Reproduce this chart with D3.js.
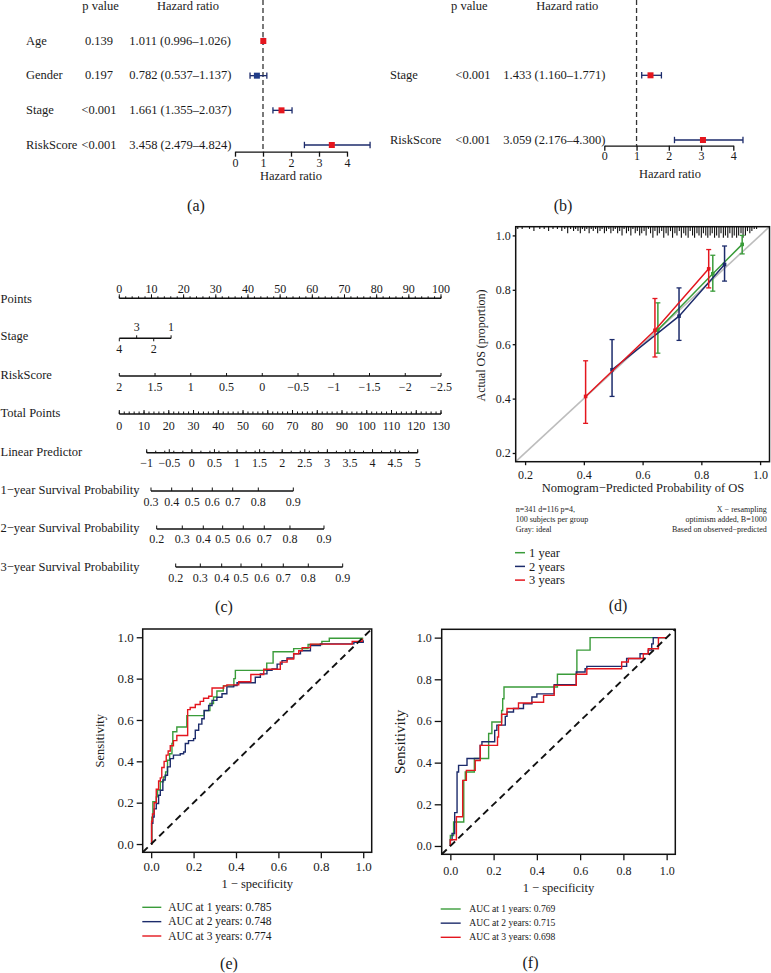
<!DOCTYPE html>
<html><head><meta charset="utf-8">
<script src="https://cdn.jsdelivr.net/npm/d3@7"></script>
<style>body{margin:0;background:#fff}svg{display:block}</style>
</head><body>
<script>
// ---------------- DATA ----------------
// (a) univariate Cox
const aVars = ["Age","Gender","Stage","RiskScore"];
const aPval = ["0.139","0.197","<0.001","<0.001"];
const aHR   = [1.011,0.782,1.661,3.458];
const aLow  = [0.996,0.537,1.355,2.479];
const aHigh = [1.026,1.137,2.037,4.824];
// (b) multivariate Cox
const bVars = ["Stage","RiskScore"];
const bPval = ["<0.001","<0.001"];
const bHR   = [1.433,3.059];
const bLow  = [1.160,2.176];
const bHigh = [1.771,4.300];
const hrTicks = [0,1,2,3,4];

// (c) nomogram
const nomRows = ["Points","Stage","RiskScore","Total Points","Linear Predictor",
  "1\u2212year Survival Probability","2\u2212year Survival Probability","3\u2212year Survival Probability"];
const pointsTicks = [0,10,20,30,40,50,60,70,80,90,100];
const stageLevels = ["4","3","2","1"];
const stagePoints = [0,5.4,10.7,16.1];
const stageSide   = ["below","above","below","above"];
const riskRange = [2,-2.5];
const riskTicks = [2,1.5,1,0.5,0,-0.5,-1,-1.5,-2,-2.5];
const totalRange = [0,130];
const totalTicks = [0,10,20,30,40,50,60,70,80,90,100,110,120,130];
const lpRange = [-1,5];
const lpTicks = [-1,-0.5,0,0.5,1,1.5,2,2.5,3,3.5,4,4.5,5];
const surv1Probs = [0.3,0.4,0.5,0.6,0.7,0.8,0.9];
const surv1LP    = [-0.905,-0.447,0.010,0.452,0.904,1.471,2.246];
const surv2Probs = [0.2,0.3,0.4,0.5,0.6,0.7,0.8,0.9];
const surv2LP    = [-0.779,-0.212,0.253,0.682,1.138,1.603,2.172,2.925];
const surv3Probs = [0.2,0.3,0.4,0.5,0.6,0.7,0.8,0.9];
const surv3LP    = [-0.358,0.187,0.660,1.088,1.546,2.024,2.578,3.339];

// (d) calibration
const calYears = ["1 year","2 years","3 years"];
const calPred = [[0.652,0.839,0.939],[0.496,0.724,0.879],[0.406,0.642,0.825]];
const calObs  = [[0.652,0.859,0.967],[0.506,0.703,0.893],[0.408,0.651,0.877]];
const calLo   = [[0.567,0.795,0.932],[0.408,0.614,0.832],[0.309,0.553,0.807]];
const calHi   = [[0.752,0.927,1.000],[0.617,0.807,0.961],[0.539,0.768,0.948]];
const calTicks = [0.2,0.4,0.6,0.8,1.0];
const rugPred = [0.175,0.19,0.215,0.23,0.25,0.265,0.28,0.295,0.31,0.325,0.335,0.345,0.355,0.365,0.372,0.38,0.388,0.395,0.403,0.41,0.418,0.425,0.432,0.44,0.447,0.455,0.462,0.47,0.477,0.485,0.492,0.5,0.507,0.515,0.522,0.53,0.537,0.545,0.552,0.56,0.567,0.575,0.582,0.59,0.597,0.605,0.612,0.62,0.627,0.635,0.642,0.65,0.657,0.665,0.672,0.68,0.687,0.695,0.702,0.71,0.717,0.725,0.732,0.74,0.747,0.755,0.762,0.77,0.777,0.785,0.792,0.8,0.807,0.815,0.822,0.83,0.837,0.845,0.852,0.86,0.867,0.875,0.882,0.89,0.897,0.905,0.912,0.92,0.927,0.935,0.942,0.95,0.957,0.965,0.972,0.98,0.988];
const rugCount = [1,1,1,2,1,1,2,1,1,2,1,3,1,2,1,2,3,1,2,1,3,1,2,1,3,2,1,3,2,1,3,2,1,3,2,4,1,3,2,4,1,3,2,4,3,2,4,1,3,5,2,4,3,2,5,3,4,2,5,3,4,2,5,3,4,5,2,4,5,3,4,5,3,4,5,4,3,5,4,5,3,5,4,5,3,5,4,5,4,3,5,4,2,3,2,1,1];

// (e) ROC training set  [FPR, TPR]
const rocE1 = [[0,0],[0.003,0.13],[0.008,0.205],[0.024,0.228],[0.030,0.261],[0.043,0.301],[0.058,0.325],[0.068,0.349],[0.077,0.405],[0.087,0.437],[0.098,0.486],[0.102,0.543],[0.121,0.566],[0.168,0.621],[0.25,0.645],[0.277,0.68],[0.294,0.711],[0.31,0.74],[0.34,0.765],[0.39,0.80],[0.397,0.84],[0.545,0.875],[0.575,0.93],[0.672,0.945],[0.74,0.965],[0.805,0.98],[0.84,0.995],[1.0,0.995]];
const rocE2 = [[0,0],[0.002,0.1],[0.008,0.13],[0.014,0.17],[0.024,0.196],[0.035,0.236],[0.043,0.26],[0.055,0.31],[0.066,0.333],[0.077,0.373],[0.09,0.413],[0.105,0.43],[0.137,0.437],[0.153,0.445],[0.161,0.486],[0.176,0.5],[0.2,0.51],[0.208,0.55],[0.224,0.58],[0.239,0.606],[0.25,0.646],[0.271,0.67],[0.287,0.695],[0.31,0.71],[0.334,0.727],[0.357,0.76],[0.389,0.767],[0.405,0.78],[0.491,0.807],[0.515,0.823],[0.546,0.84],[0.57,0.847],[0.594,0.87],[0.617,0.887],[0.641,0.9],[0.672,0.92],[0.704,0.935],[0.751,0.96],[0.798,0.968],[0.956,0.976],[1.0,0.985]];
const rocE3 = [[0,0],[0.002,0.11],[0.006,0.145],[0.014,0.2],[0.024,0.265],[0.035,0.305],[0.043,0.32],[0.05,0.37],[0.061,0.4],[0.071,0.43],[0.08,0.45],[0.09,0.475],[0.105,0.5],[0.121,0.525],[0.172,0.65],[0.184,0.66],[0.208,0.675],[0.231,0.69],[0.247,0.705],[0.271,0.715],[0.287,0.755],[0.342,0.765],[0.357,0.77],[0.413,0.785],[0.47,0.82],[0.531,0.845],[0.609,0.88],[0.641,0.895],[0.672,0.92],[0.696,0.935],[0.712,0.95],[0.751,0.967],[0.948,0.98],[0.995,0.99],[1.0,0.99]];
const aucE = ["0.785","0.748","0.774"];
// (f) ROC validation set
const rocF1 = [[0,0],[0,0.05],[0.015,0.115],[0.062,0.315],[0.069,0.355],[0.111,0.42],[0.177,0.54],[0.192,0.595],[0.237,0.65],[0.242,0.707],[0.248,0.763],[0.495,0.824],[0.585,0.94],[0.646,1.0],[1.0,1.0]];
const rocF2 = [[0,0],[0,0.03],[0.008,0.06],[0.02,0.16],[0.031,0.355],[0.038,0.387],[0.077,0.42],[0.138,0.483],[0.146,0.5],[0.205,0.555],[0.215,0.58],[0.254,0.622],[0.262,0.643],[0.292,0.66],[0.338,0.683],[0.377,0.715],[0.4,0.73],[0.48,0.774],[0.582,0.835],[0.623,0.851],[0.631,0.862],[0.815,0.9],[0.877,0.923],[0.915,0.94],[0.931,0.97],[0.938,1.0],[1.0,1.0]];
const rocF3 = [[0,0],[0,0.03],[0.028,0.14],[0.057,0.315],[0.074,0.363],[0.115,0.41],[0.138,0.483],[0.218,0.523],[0.223,0.58],[0.237,0.632],[0.262,0.66],[0.315,0.686],[0.377,0.69],[0.431,0.723],[0.48,0.771],[0.582,0.824],[0.631,0.851],[0.792,0.883],[0.823,0.9],[0.892,0.923],[0.915,0.947],[0.962,1.0],[1.0,1.0]];
const aucF = ["0.769","0.715","0.698"];
const rocTicks = [0,0.2,0.4,0.6,0.8,1.0];

// ---------------- DRAWING ----------------
const SERIF = '"Liberation Serif","Times New Roman",serif';
const RED = "#e4161e", NAVY = "#1c2b6b", SQBLUE = "#203c88", GREEN = "#3a9c3a", INK = "#1a1a1a";
const svg = d3.select("body").append("svg").attr("width",771).attr("height",973).style("background","#fff");

function txt(g,x,y,s,size,anchor){
  return g.append("text").attr("x",x).attr("y",y).attr("font-size",size)
    .attr("text-anchor",anchor||"start").attr("font-family",SERIF).attr("fill",INK).text(s);
}
const fmtNum = d => String(d).replace("-","\u2212");
function styleAxis(ax,size){
  ax.attr("font-family",SERIF).attr("font-size",size);
  ax.selectAll("line,path").attr("stroke","#111").attr("stroke-width",1.3);
  ax.selectAll("text").attr("fill",INK);
}

// ----- forest plots -----
function forest(o){
  const g = svg.append("g");
  const x = d3.scaleLinear().domain([0,4]).range(o.xRange);
  const y = d3.scalePoint().domain(o.vars).range(o.yRange);
  txt(g,o.pHeadX,10,"p value",12.5,"middle");
  txt(g,o.hrHeadX,10,"Hazard ratio",12.5,"middle");
  g.append("line").attr("x1",x(1)).attr("x2",x(1)).attr("y1",0).attr("y2",o.axisY)
    .attr("stroke","#333").attr("stroke-width",1.3).attr("stroke-dasharray","5,3");
  o.vars.forEach((v,i)=>{
    const yy = y(v);
    txt(g,o.labelX,yy+3.8,v,12.5);
    txt(g,o.pX,yy+3.8,o.p[i],12.5,"middle");
    txt(g,o.hrX,yy+3.8,`${o.hr[i].toFixed(3)} (${o.lo[i].toFixed(3)}\u2013${o.hi[i].toFixed(3)})`,12.5);
    g.append("line").attr("x1",x(o.lo[i])).attr("x2",x(o.hi[i])).attr("y1",yy).attr("y2",yy)
      .attr("stroke",NAVY).attr("stroke-width",1.3);
    [o.lo[i],o.hi[i]].forEach(e=>g.append("line").attr("x1",x(e)).attr("x2",x(e))
      .attr("y1",yy-3.2).attr("y2",yy+3.2).attr("stroke",NAVY).attr("stroke-width",1.3));
    g.append("rect").attr("x",x(o.hr[i])-3).attr("y",yy-3).attr("width",6).attr("height",6)
      .attr("fill",o.hr[i]>1?RED:SQBLUE);
  });
  const ax = g.append("g").attr("transform",`translate(0,${o.axisY})`)
    .call(d3.axisBottom(x).tickValues(hrTicks).tickFormat(d3.format("d")).tickSize(o.tick).tickSizeOuter(0).tickPadding(o.pad));
  styleAxis(ax,12);
  txt(g,o.titleX,o.titleY,"Hazard ratio",12.5,"middle");
}
forest({vars:aVars,p:aPval,hr:aHR,lo:aLow,hi:aHigh,xRange:[235,347],yRange:[41,145],axisY:151.7,
  tick:5,pad:2,labelX:26,pX:99,hrX:129.3,pHeadX:100.5,hrHeadX:188,titleX:291,titleY:180});
forest({vars:bVars,p:bPval,hr:bHR,lo:bLow,hi:bHigh,xRange:[604.3,733.3],yRange:[75.3,140],axisY:145.7,
  tick:5,pad:1,labelX:390,pX:473,hrX:503.3,pHeadX:469.3,hrHeadX:567.3,titleX:670,titleY:178});
txt(svg,196,211,"(a)",16,"middle");
txt(svg,563,211,"(b)",16,"middle");

// ----- (c) nomogram -----
(function(){
  const g = svg.append("g");
  const nomX = d3.scaleLinear().domain([0,100]).range([119.3,441]);
  const riskToPts = d3.scaleLinear().domain(riskRange).range([0,100]);
  const totX = d3.scaleLinear().domain(totalRange).range([119.3,441]);
  const lpX = d3.scaleLinear().domain(lpRange).range([146.7,417.7]);
  const labelBase = [303,340,379,417,456,494,532,570.5];
  nomRows.forEach((r,i)=>txt(g,0.5,labelBase[i],r,12.5));
  function hline(y,x1,x2){ g.append("line").attr("x1",x1).attr("x2",x2).attr("y1",y).attr("y2",y).attr("stroke","#111").attr("stroke-width",1.5); }
  function tick(x,y,len){ g.append("line").attr("x1",x).attr("x2",x).attr("y1",y).attr("y2",y+len).attr("stroke","#111").attr("stroke-width",1); }
  // Points
  let y = 298.3;
  hline(y,nomX(0),nomX(100));
  nomX.ticks(50).forEach(t=>tick(nomX(t),y,-2));
  pointsTicks.forEach(t=>{ tick(nomX(t),y,-4); txt(g,nomX(t),293,fmtNum(t),12,"middle"); });
  // Stage
  y = 338.3;
  const sx = stagePoints.map(p=>nomX(p));
  hline(y,d3.min(sx),d3.max(sx));
  stageLevels.forEach((s,i)=>{
    const up = stageSide[i]==="above";
    tick(sx[i],y,up?-3:3);
    txt(g,sx[i],up?331:353,s,12,"middle");
  });
  // RiskScore
  y = 376;
  hline(y,nomX(riskToPts(riskRange[0])),nomX(riskToPts(riskRange[1])));
  riskTicks.forEach(t=>{ const xx=nomX(riskToPts(t)); tick(xx,y,-3); txt(g,xx,390.5,fmtNum(t),12,"middle"); });
  // Total points
  y = 414;
  hline(y,totX(totalRange[0]),totX(totalRange[1]));
  totX.ticks(65).forEach(t=>tick(totX(t),y,-2.5));
  totalTicks.forEach(t=>{ tick(totX(t),y,-4); txt(g,totX(t),430,fmtNum(t),12,"middle"); });
  // Linear predictor
  y = 452.7;
  hline(y,lpX(lpRange[0]),lpX(lpRange[1]));
  lpX.ticks(24).forEach(t=>tick(lpX(t),y,-2));
  lpTicks.forEach(t=>{ tick(lpX(t),y,-3.5); txt(g,lpX(t),467,fmtNum(t),12,"middle"); });
  // survival axes
  [[surv1Probs,surv1LP,491,506],[surv2Probs,surv2LP,529,543.3],[surv3Probs,surv3LP,567,581.5]].forEach(([pr,lp,yy,bl])=>{
    hline(yy,lpX(d3.min(lp)),lpX(d3.max(lp)));
    pr.forEach((p,i)=>{ tick(lpX(lp[i]),yy,-3.5); txt(g,lpX(lp[i]),bl,p.toFixed(1),12,"middle"); });
  });
  txt(svg,224,612,"(c)",16,"middle");
})();

// ----- (d) calibration -----
(function(){
  const g = svg.append("g");
  const L=515.7,R=769.5,T=226.7,B=461.7;
  const x = d3.scaleLinear().domain([0.168,1.032]).range([L,R]);
  const y = d3.scaleLinear().domain([0.168,1.032]).range([B,T]);
  // rug
  rugPred.forEach((p,i)=>g.append("line").attr("x1",x(p)).attr("x2",x(p)).attr("y1",T).attr("y2",T+rugCount[i]*2.2)
    .attr("stroke","#111").attr("stroke-width",1.1));
  // ideal
  g.append("line").attr("x1",x(0.168)).attr("y1",y(0.168)).attr("x2",x(1.032)).attr("y2",y(1.032))
    .attr("stroke","#bdbdbd").attr("stroke-width",1.6);
  const cols = [GREEN,NAVY,RED];
  const line = d3.line().x(d=>x(d[0])).y(d=>y(d[1]));
  calPred.forEach((pr,k)=>{
    const pts = pr.map((p,i)=>[p,calObs[k][i]]);
    g.append("path").attr("d",line(pts)).attr("fill","none").attr("stroke",cols[k]).attr("stroke-width",1.5);
    pr.forEach((p,i)=>{
      const xx=x(p);
      g.append("line").attr("x1",xx).attr("x2",xx).attr("y1",y(calLo[k][i])).attr("y2",y(calHi[k][i])).attr("stroke",cols[k]).attr("stroke-width",1.5);
      [calLo[k][i],calHi[k][i]].forEach(e=>g.append("line").attr("x1",xx-2.5).attr("x2",xx+2.5).attr("y1",y(e)).attr("y2",y(e)).attr("stroke",cols[k]).attr("stroke-width",1.3));
      g.append("rect").attr("x",xx-1.8).attr("y",y(calObs[k][i])-1.8).attr("width",3.6).attr("height",3.6).attr("fill",cols[k]);
    });
  });
  g.append("rect").attr("x",L).attr("y",T).attr("width",R-L).attr("height",B-T).attr("fill","none").attr("stroke","#111").attr("stroke-width",1.5);
  const ax = g.append("g").attr("transform",`translate(0,${B})`).call(d3.axisBottom(x).tickValues(calTicks).tickFormat(d3.format(".1f")).tickSize(3.5).tickSizeOuter(0).tickPadding(5.5));
  ax.select(".domain").remove(); styleAxis(ax,12);
  const ay = g.append("g").attr("transform",`translate(${L},0)`).call(d3.axisLeft(y).tickValues(calTicks).tickFormat(d3.format(".1f")).tickSize(3).tickSizeOuter(0).tickPadding(2));
  ay.select(".domain").remove(); styleAxis(ay,12);
  txt(g,643,492,"Nomogram\u2212Predicted Probability of OS",12.5,"middle");
  txt(g,0,0,"Actual OS (proportion)",12,"middle").attr("transform","translate(485,345.5) rotate(-90)");
  ["n=341 d=116 p=4,","100 subjects per group","Gray: ideal"].forEach((s,i)=>txt(g,515.7,512+i*10,s,8));
  ["X \u2212 resampling","optimism added, B=1000","Based on observed\u2212predicted"].forEach((s,i)=>txt(g,766.7,512+i*10,s,8,"end"));
  calYears.forEach((s,i)=>{
    const yy = 552.7+i*13.7;
    g.append("line").attr("x1",515).attr("x2",525).attr("y1",yy).attr("y2",yy).attr("stroke",cols[i]).attr("stroke-width",1.5);
    txt(g,529,yy+4.2,s,12.5);
  });
  txt(svg,618,611,"(d)",16,"middle");
})();

// ----- (e), (f) ROC -----
function roc(o){
  const g = svg.append("g");
  const x = d3.scaleLinear().domain([-0.04,1.04]).range([o.L,o.R]);
  const y = d3.scaleLinear().domain([-0.04,1.04]).range([o.B,o.T]);
  const cols = [GREEN,NAVY,RED];
  const line = d3.line().x(d=>x(d[0])).y(d=>y(d[1])).curve(d3.curveStepAfter);
  o.curves.forEach((c,k)=>g.append("path").attr("d",line(c)).attr("fill","none").attr("stroke",cols[k]).attr("stroke-width",1.4));
  g.append("line").attr("x1",x(-0.04)).attr("y1",y(-0.04)).attr("x2",x(1.04)).attr("y2",y(1.04))
    .attr("stroke","#111").attr("stroke-width",1.9).attr("stroke-dasharray","7,4.5");
  g.append("rect").attr("x",o.L).attr("y",o.T).attr("width",o.R-o.L).attr("height",o.B-o.T).attr("fill","none").attr("stroke","#111").attr("stroke-width",1.5);
  const ax = g.append("g").attr("transform",`translate(0,${o.B})`).call(d3.axisBottom(x).tickValues(rocTicks).tickFormat(d3.format(".1f")).tickSize(6).tickSizeOuter(0).tickPadding(o.xpad));
  ax.select(".domain").remove(); styleAxis(ax,o.tickFont);
  const ay = g.append("g").attr("transform",`translate(${o.L},0)`).call(d3.axisLeft(y).tickValues(rocTicks).tickFormat(d3.format(".1f")).tickSize(o.ytick).tickSizeOuter(0).tickPadding(3));
  ay.select(".domain").remove(); styleAxis(ay,o.tickFont);
  txt(g,x(0.5),o.xTitleY,"1 \u2212 specificity",12.5,"middle");
  txt(g,0,0,"Sensitivity",o.yFont,"middle").attr("transform",`translate(${o.yTitleX},${y(0.5)}) rotate(-90)`);
  o.auc.forEach((a,i)=>{
    const yy = o.legY+i*o.legStep;
    g.append("line").attr("x1",o.legX).attr("x2",o.legX+o.legLen).attr("y1",yy).attr("y2",yy).attr("stroke",cols[i]).attr("stroke-width",1.4);
    txt(g,o.legTextX,yy+o.legFont*0.33,`AUC at ${i+1} years: ${a}`,o.legFont);
  });
}
roc({curves:[rocE1,rocE2,rocE3],auc:aucE,L:142.7,R:371.7,T:629,B:852.3,xpad:3,ytick:6,tickFont:13,
  xTitleY:888,yTitleX:104,yFont:12.5,legX:142.3,legLen:19,legTextX:168.3,legY:907.3,legStep:14.35,legFont:11.5});
roc({curves:[rocF1,rocF2,rocF3],auc:aucF,L:441.7,R:675.3,T:629.3,B:854.3,xpad:6,ytick:7,tickFont:12,
  xTitleY:892,yTitleX:404.5,yFont:15,legX:440.7,legLen:20,legTextX:469.3,legY:909,legStep:14.15,legFont:9.6});
txt(svg,229,969,"(e)",16,"middle");
txt(svg,530.5,968,"(f)",16,"middle");
</script>
</body></html>
